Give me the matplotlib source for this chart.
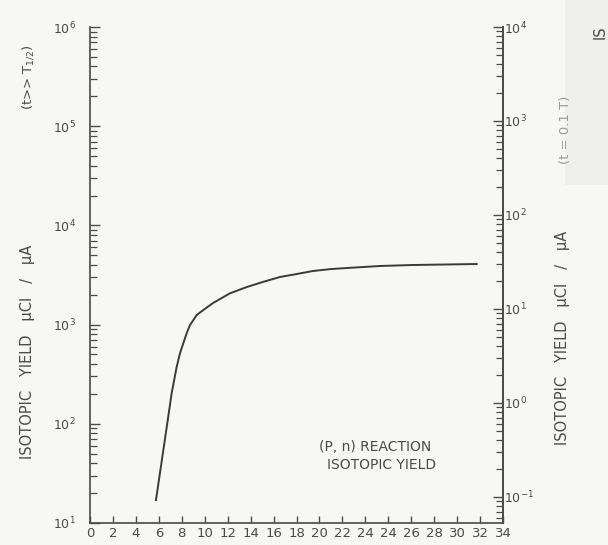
import matplotlib
matplotlib.use('Agg')
import matplotlib.pyplot as plt
import matplotlib.patches as mplpatches
from matplotlib.ticker import LogLocator, NullFormatter, FixedLocator, FixedFormatter
import numpy as np

# curve (x in drawn axis positions, y in uCi/uA)
x_pos = [5.75, 6.69, 7.12, 7.56, 7.85, 8.43, 8.72, 9.30, 9.88, 10.72, 12.21,
         13.66, 15.11, 16.56, 18.02, 19.44, 21.0, 22.4, 25.3, 28.2, 33.7]
yield_uci = [17, 93, 204, 377, 517, 822, 991, 1250, 1403, 1650, 2070,
             2390, 2700, 3020, 3236, 3470, 3630, 3720, 3900, 3990, 4080]

# tick labels as printed (the scan repeats "24")
x_tick_labels = ['0', '2', '4', '6', '8', '10', '12', '14', '16', '18', '20',
                 '22', '24', '24', '26', '28', '30', '32', '34']
left_decades = [1, 2, 3, 4, 5, 6]
right_decades = [-1, 0, 1, 2, 3, 4]

ink = '#4a4a4a'
paper = '#f7f7f5'

plt.rcParams['font.family'] = ['DejaVu Sans']

figureWidth = 6.08
figureHeight = 5.45
fig = plt.figure(figsize=(figureWidth, figureHeight), dpi=100)
fig.patch.set_facecolor(paper)

# faint patch of the scan at the top right
fig.patches.append(mplpatches.Rectangle((565/608, 1 - 185/545), 43/608, 185/545,
                                        transform=fig.transFigure, facecolor='#efefed',
                                        edgecolor='none', zorder=0))

mainPanel = plt.axes([90/608, 1 - 523/545, 413/608, 496/545])
mainPanel.set_facecolor('none')
mainPanel.set_yscale('log')
mainPanel.set_xlim(0, 36)
mainPanel.set_ylim(10**left_decades[0], 10**left_decades[-1])

mainPanel.plot(x_pos, yield_uci, color='#3a3a3a', linewidth=1.4)

for side in ['top']:
    mainPanel.spines[side].set_visible(False)
for side in ['left', 'bottom', 'right']:
    mainPanel.spines[side].set_color(ink)
    mainPanel.spines[side].set_linewidth(1.2)

xticks = np.arange(0, 2 * len(x_tick_labels), 2)
mainPanel.xaxis.set_major_locator(FixedLocator(xticks))
mainPanel.xaxis.set_major_formatter(FixedFormatter(x_tick_labels))
mainPanel.tick_params(axis='x', direction='in', length=5, width=1, color=ink,
                      labelsize=9.5, labelcolor=ink, pad=3)

mainPanel.yaxis.set_major_locator(FixedLocator([10.0**d for d in left_decades]))
mainPanel.yaxis.set_major_formatter(FixedFormatter([r'$10^{%d}$' % d for d in left_decades]))
mainPanel.yaxis.set_minor_locator(LogLocator(base=10, subs=np.arange(2, 10)))
mainPanel.yaxis.set_minor_formatter(NullFormatter())
mainPanel.tick_params(axis='y', which='major', direction='in', length=7, width=1,
                      color=ink, labelsize=9, labelcolor=ink, pad=10)
mainPanel.tick_params(axis='y', which='minor', direction='in', length=5, width=0.9,
                      color=ink)

# right hand scale
rightPanel = mainPanel.twinx()
rightPanel.set_yscale('log')
rightPanel.set_ylim(10**-1.2766, 10**right_decades[-1])
for side in ['top', 'left', 'bottom']:
    rightPanel.spines[side].set_visible(False)
rightPanel.spines['right'].set_color(ink)
rightPanel.spines['right'].set_linewidth(1.2)
rightPanel.yaxis.set_major_locator(FixedLocator([10.0**d for d in right_decades]))
rightPanel.yaxis.set_major_formatter(FixedFormatter([r'$10^{%d}$' % d for d in right_decades]))
rightPanel.yaxis.set_minor_locator(LogLocator(base=10, subs=np.arange(2, 10)))
rightPanel.yaxis.set_minor_formatter(NullFormatter())
rightPanel.tick_params(axis='y', which='major', direction='in', length=7, width=1,
                       color=ink, labelsize=9, labelcolor=ink, pad=1)
rightPanel.tick_params(axis='y', which='minor', direction='in', length=5, width=0.9,
                       color=ink)

# annotations inside the plot
mainPanel.text(0.69, 0.153, '(P, n) REACTION', transform=mainPanel.transAxes,
               ha='center', va='center', fontsize=10, color=ink)
mainPanel.text(0.707, 0.117, 'ISOTOPIC YIELD', transform=mainPanel.transAxes,
               ha='center', va='center', fontsize=10, color=ink)

# axis titles
fig.text(28/608, 1 - 352/545, 'ISOTOPIC   YIELD   \u03bcCI   /   \u03bcA',
         rotation=90, ha='center', va='center', fontsize=10.5, color=ink)
fig.text(28/608, 1 - 77/545, r'(t>> T$_{1/2}$)',
         rotation=90, ha='center', va='center', fontsize=9.5, color=ink)
fig.text(563/608, 1 - 338/545, 'ISOTOPIC   YIELD   \u03bcCI   /   \u03bcA',
         rotation=90, ha='center', va='center', fontsize=10.5, color=ink)
fig.text(565/608, 1 - 130/545, '(t = 0.1 T)',
         rotation=90, ha='center', va='center', fontsize=9.5, color='#9a9a9a')
fig.text(600/608, 1 - 32/545, 'IS',
         rotation=90, ha='center', va='center', fontsize=10.5, color=ink)

plt.savefig('out.png', dpi=100, facecolor=paper)
